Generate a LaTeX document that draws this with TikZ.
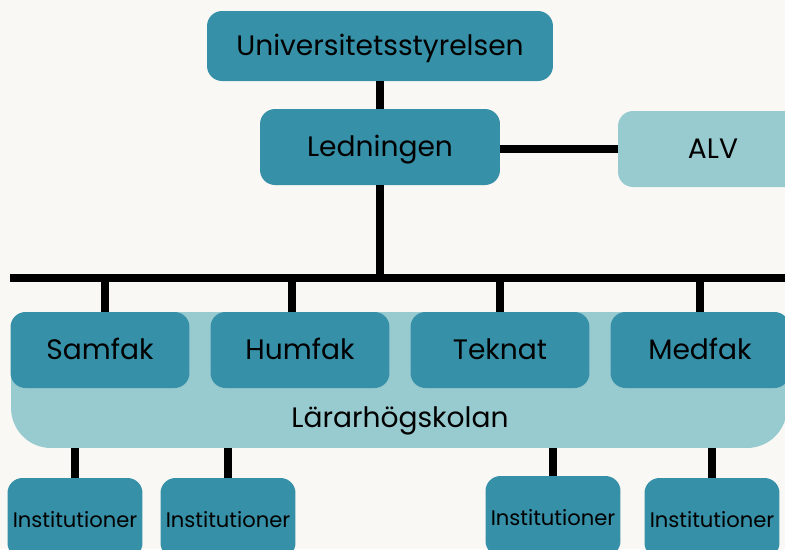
\documentclass[tikz,border=0pt]{standalone}
\usepackage{fontspec}
\setmainfont{Poppins}
\usetikzlibrary{positioning}

\definecolor{unidark}{RGB}{54,144,168}
\definecolor{unilight}{RGB}{152,203,208}
\definecolor{paper}{RGB}{249,248,245}

\begin{document}
\begin{tikzpicture}
   [x=0.02cm,y=-0.02cm,
    box/.style={fill=unidark,rounded corners=0.3cm,inner sep=0pt,
       text height=1.05em,text depth=0pt,
       minimum height=1.52cm,font=\fontsize{16}{18}\selectfont},
    fak/.style={box,minimum width=3.58cm},
    inst/.style={box,minimum width=2.7cm,minimum height=1.6cm,
       font=\fontsize{12}{14}\selectfont},
    link/.style={line width=4pt}]
   \useasboundingbox (0,0) rectangle (785,549);
   \clip (0,0) rectangle (785,549);
   \fill[paper] (0,0) rectangle (785,549);

   \node[box,minimum width=6.92cm,minimum height=1.4cm] (univ) at (380,46) {Universitetsstyrelsen};
   \node[box,minimum width=4.8cm] (led) at (380,147) {Ledningen};
   \node[box,fill=unilight,minimum width=3.8cm] (alv) at (713,149) {ALV};

   \node[fill=unilight,rounded corners=0.8cm,minimum width=15.52cm,minimum height=2.72cm] (lhs) at (399,380) {};
   \node[text height=1.05em,text depth=0pt,font=\fontsize{16}{18}\selectfont] (lhtext) at (400,418) {Lärarhögskolan};

   \node[fak] (samfak) at (100,350) {Samfak};
   \node[fak] (humfak) at (300,350) {Humfak};
   \node[fak] (teknat) at (500,350) {Teknat};
   \node[fak] (medfak) at (700,350) {Medfak};

   \node[inst] (inst1) at (75,518) {Institutioner};
   \node[inst] (inst2) at (228,518) {Institutioner};
   \node[inst] (inst3) at (553,516) {Institutioner};
   \node[inst] (inst4) at (712,518) {Institutioner};

   \coordinate (barl) at (10,278);
   \coordinate (barr) at (790,278);
   \coordinate (bar) at (led.center |- barl);

   \draw[link] (univ) -- (led);
   \draw[link] (alv.west) -- (alv.west -| led.east);
   \draw[link] (led) -- (bar);
   \draw[link] (barl) -- (barr);
   \draw[link] ([xshift=0.1cm]samfak.north |- bar) -- ([xshift=0.1cm]samfak.north);
   \draw[link] ([xshift=-0.16cm]humfak.north |- bar) -- ([xshift=-0.16cm]humfak.north);
   \foreach \f in {teknat,medfak}
      \draw[link] (\f.north |- bar) -- (\f.north);
   \foreach \i in {inst1,inst2,inst3,inst4}
      \draw[link] (\i.north |- lhs.south) -- (\i.north);
\end{tikzpicture}
\end{document}
